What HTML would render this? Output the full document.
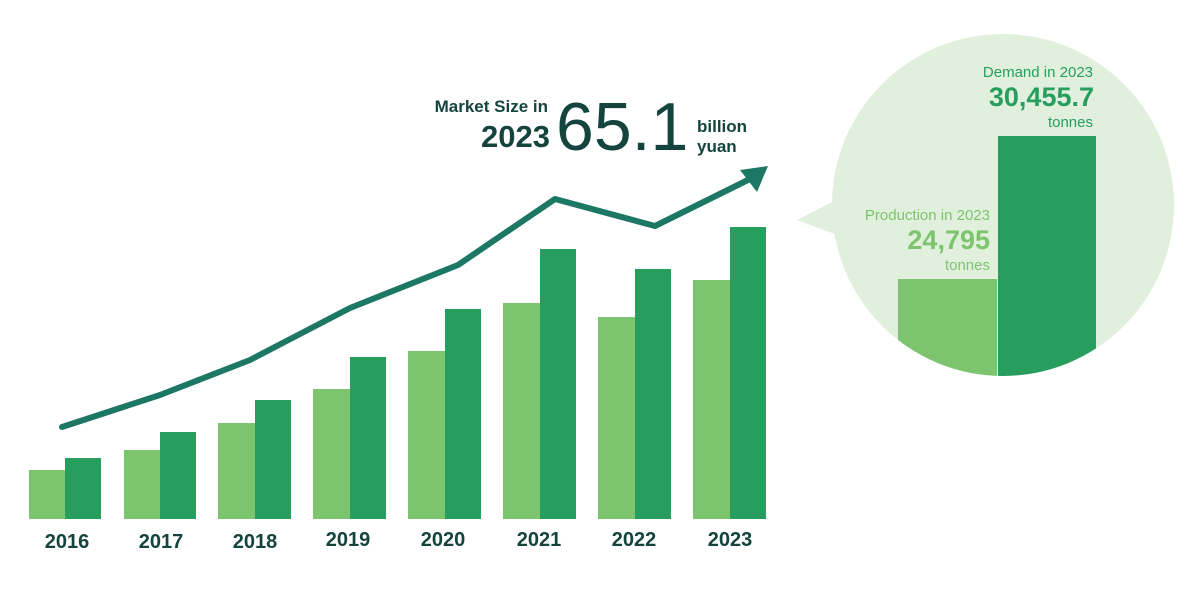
<!DOCTYPE html>
<html><head><meta charset="utf-8"><style>
html,body{margin:0;padding:0;background:#fff;}
svg{display:block;}
text{font-family:"Liberation Sans",sans-serif;}
</style></head><body>
<svg width="1200" height="600" viewBox="0 0 1200 600" xmlns="http://www.w3.org/2000/svg">
<defs><clipPath id="c"><circle cx="1003" cy="205" r="171"/></clipPath></defs>
<g>
<rect x="29" y="470" width="36" height="49" fill="#7cc46d"/><rect x="65" y="458" width="36" height="61" fill="#279d5e"/>
<rect x="124" y="450" width="36" height="69" fill="#7cc46d"/><rect x="160" y="432" width="36" height="87" fill="#279d5e"/>
<rect x="218" y="423" width="37" height="96" fill="#7cc46d"/><rect x="255" y="400" width="36" height="119" fill="#279d5e"/>
<rect x="313" y="389" width="37" height="130" fill="#7cc46d"/><rect x="350" y="357" width="36" height="162" fill="#279d5e"/>
<rect x="408" y="351" width="37" height="168" fill="#7cc46d"/><rect x="445" y="309" width="36" height="210" fill="#279d5e"/>
<rect x="503" y="303" width="37" height="216" fill="#7cc46d"/><rect x="540" y="249" width="36" height="270" fill="#279d5e"/>
<rect x="598" y="317" width="37" height="202" fill="#7cc46d"/><rect x="635" y="269" width="36" height="250" fill="#279d5e"/>
<rect x="693" y="280" width="37" height="239" fill="#7cc46d"/><rect x="730" y="227" width="36" height="292" fill="#279d5e"/>
</g>
<g font-size="20" font-weight="bold" fill="#14443d" text-anchor="middle">
<text x="67" y="548">2016</text><text x="161" y="548">2017</text><text x="255" y="548">2018</text><text x="348" y="546">2019</text>
<text x="443" y="546">2020</text><text x="539" y="546">2021</text><text x="634" y="546">2022</text><text x="730" y="546">2023</text>
</g>
<polyline points="62,427 160,395 250,360 350,308 458,265 555,199 655,226 752,178" fill="none" stroke="#1c7764" stroke-width="6" stroke-linecap="round" stroke-linejoin="round"/>
<polygon points="768,166 740,170 757,192" fill="#1c7764"/>
<g fill="#14443d" font-weight="bold">
<text x="548" y="112" font-size="17" text-anchor="end">Market Size in</text>
<text x="550" y="147" font-size="31" text-anchor="end">2023</text>
<text x="556" y="150" font-size="68" font-weight="normal">65.1</text>
<text x="697" y="132" font-size="17">billion</text>
<text x="697" y="152" font-size="17">yuan</text>
</g>
<circle cx="1003" cy="205" r="171" fill="#e1f0dc"/>
<polygon points="797,220 840,198 840,236" fill="#e1f0dc"/>
<g clip-path="url(#c)">
<rect x="898" y="279" width="99" height="120" fill="#7cc46d"/>
<rect x="998" y="136" width="98" height="260" fill="#279d5e"/>
</g>
<g text-anchor="end">
<text x="1093" y="77" font-size="15" fill="#279d5e">Demand in 2023</text>
<text x="1094" y="106" font-size="27" font-weight="bold" fill="#279d5e">30,455.7</text>
<text x="1093" y="127" font-size="15" fill="#279d5e">tonnes</text>
<text x="990" y="220" font-size="15" fill="#7cc46d">Production in 2023</text>
<text x="990" y="249" font-size="27" font-weight="bold" fill="#7cc46d">24,795</text>
<text x="990" y="270" font-size="15" fill="#7cc46d">tonnes</text>
</g>
</svg>
</body></html>
